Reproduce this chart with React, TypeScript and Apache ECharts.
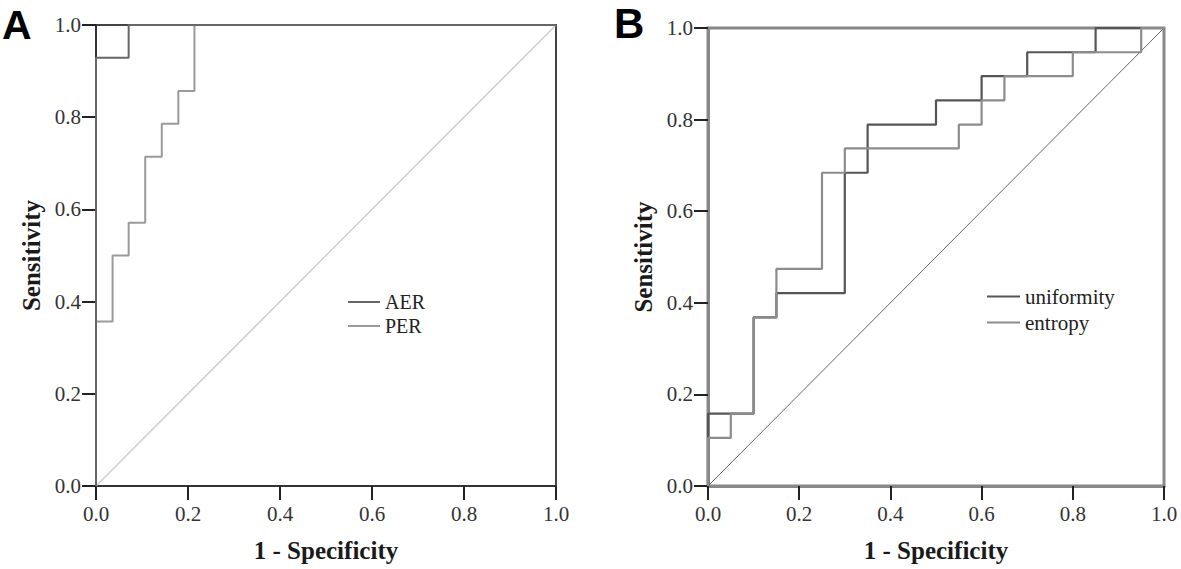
import React, { useEffect, useRef } from "react";
import * as echarts from "echarts";

// ROC vertices (1 - specificity, sensitivity), drawn with step: 'end'
const aerPoints: [number, number][] = [
  [0, 0], [0, 0.929], [0.071, 1], [1, 1],
];
const perPoints: [number, number][] = [
  [0, 0], [0, 0.357], [0.036, 0.5], [0.071, 0.571], [0.107, 0.714],
  [0.143, 0.786], [0.179, 0.857], [0.214, 1], [1, 1],
];
const uniformityPoints: [number, number][] = [
  [0, 0], [0, 0.158], [0.1, 0.368], [0.15, 0.421], [0.3, 0.684],
  [0.35, 0.789], [0.5, 0.842], [0.6, 0.895], [0.7, 0.947], [0.85, 1], [1, 1],
];
const entropyPoints: [number, number][] = [
  [0, 0], [0, 0.105], [0.05, 0.158], [0.1, 0.368], [0.15, 0.474],
  [0.25, 0.684], [0.3, 0.737], [0.55, 0.789], [0.6, 0.842], [0.65, 0.895],
  [0.8, 0.947], [0.95, 1], [1, 1],
];
const referenceLine: [number, number][] = [[0, 0], [1, 1]];

const panelLabels = ["A", "B"];
const legendA = ["AER", "PER"];
const legendB = ["uniformity", "entropy"];
const xTitle = "1 - Specificity";
const yTitle = "Sensitivity";

const serif = "'Liberation Serif', 'Times New Roman', serif";

function axisCommon(lineColor: string, lineWidth: number) {
  return {
    type: "value" as const,
    min: 0,
    max: 1,
    interval: 0.2,
    nameLocation: "middle" as const,
    nameTextStyle: { fontFamily: serif, fontWeight: "bold" as const, fontSize: 25, color: "#1a1a1a" },
    axisLine: { show: true, lineStyle: { color: lineColor, width: lineWidth } },
    axisTick: { show: true, length: 14, lineStyle: { color: "#222", width: 2 } },
    axisLabel: {
      fontFamily: serif,
      fontSize: 21,
      color: "#333",
      formatter: (v: number) => v.toFixed(1),
    },
    splitLine: { show: false },
  };
}

export default function App() {
  const ref = useRef<HTMLDivElement>(null);
  useEffect(() => {
    if (!ref.current) return;
    const chart = echarts.init(ref.current, undefined, { renderer: "svg" });
    const xA = axisCommon("#333", 2);
    const yA = axisCommon("#333", 2);
    const xB = axisCommon("#888", 3);
    const yB = axisCommon("#888", 3);
    chart.setOption({
      animation: false,
      backgroundColor: "#fff",
      grid: [
        { left: 96, top: 25, width: 460, height: 461, show: true, borderColor: "#444", borderWidth: 2 },
        { left: 708, top: 28, width: 456, height: 458, show: true, borderColor: "#888", borderWidth: 3 },
      ],
      xAxis: [
        { ...xA, gridIndex: 0, name: xTitle, nameGap: 52, axisLabel: { ...xA.axisLabel, margin: 17 } },
        { ...xB, gridIndex: 1, name: xTitle, nameGap: 52, axisLabel: { ...xB.axisLabel, margin: 17 } },
      ],
      yAxis: [
        { ...yA, gridIndex: 0, name: yTitle, nameGap: 52, axisLabel: { ...yA.axisLabel, margin: 15 } },
        { ...yB, gridIndex: 1, name: yTitle, nameGap: 52, axisLabel: { ...yB.axisLabel, margin: 15 } },
      ],
      legend: [
        {
          data: legendA,
          orient: "vertical",
          left: 348,
          top: 292,
          padding: 0,
          itemGap: 4,
          icon: "rect",
          itemWidth: 32,
          itemHeight: 2,
          textStyle: { fontFamily: serif, fontSize: 20, color: "#222", lineHeight: 20 },
        },
        {
          data: legendB,
          orient: "vertical",
          left: 987,
          top: 286,
          padding: 0,
          itemGap: 5,
          icon: "rect",
          itemWidth: 33,
          itemHeight: 2,
          textStyle: { fontFamily: serif, fontSize: 21, color: "#222", lineHeight: 21 },
        },
      ],
      graphic: [
        {
          type: "text", left: 2, top: 4,
          style: { text: panelLabels[0], font: "bold 41px 'Liberation Sans', Arial, sans-serif", fill: "#000" },
        },
        {
          type: "text", left: 614, top: 2,
          style: { text: panelLabels[1], font: "bold 42px 'Liberation Sans', Arial, sans-serif", fill: "#000" },
        },
      ],
      series: [
        {
          type: "line", xAxisIndex: 0, yAxisIndex: 0, data: referenceLine, showSymbol: false,
          lineStyle: { color: "#cfcfcf", width: 1.5 }, silent: true,
        },
        {
          name: "PER", type: "line", xAxisIndex: 0, yAxisIndex: 0, data: perPoints, step: "end",
          showSymbol: false, color: "#9a9a9a", lineStyle: { color: "#9a9a9a", width: 2 },
        },
        {
          name: "AER", type: "line", xAxisIndex: 0, yAxisIndex: 0, data: aerPoints, step: "end",
          showSymbol: false, color: "#666", lineStyle: { color: "#666", width: 2 },
        },
        {
          type: "line", xAxisIndex: 1, yAxisIndex: 1, data: referenceLine, showSymbol: false,
          lineStyle: { color: "#666", width: 1 }, silent: true,
        },
        {
          name: "uniformity", type: "line", xAxisIndex: 1, yAxisIndex: 1, data: uniformityPoints, step: "end",
          showSymbol: false, color: "#555", lineStyle: { color: "#555", width: 2.2 },
        },
        {
          name: "entropy", type: "line", xAxisIndex: 1, yAxisIndex: 1, data: entropyPoints, step: "end",
          showSymbol: false, color: "#8c8c8c", lineStyle: { color: "#8c8c8c", width: 2.2 },
        },
      ],
    });
    return () => chart.dispose();
  }, []);
  return (
    <div
      ref={ref}
      style={{ position: "fixed", left: 0, top: 0, width: 1181, height: 569, background: "#fff" }}
    />
  );
}
